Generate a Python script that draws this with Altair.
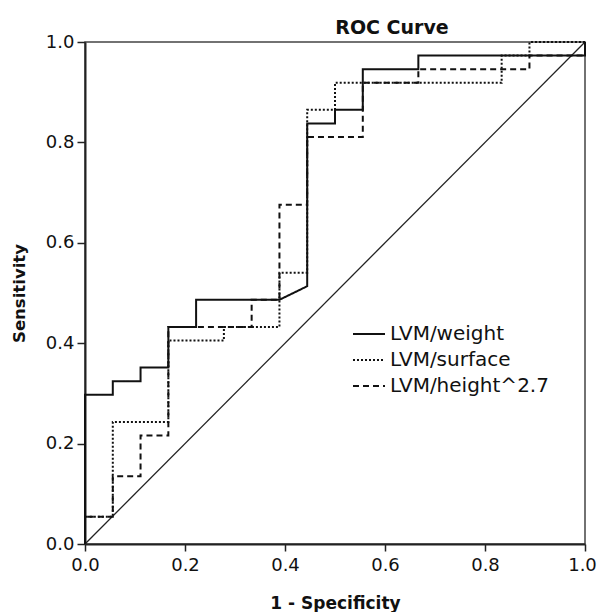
import altair as alt
import pandas as pd

# ---- data ----
series_names = ["LVM/weight", "LVM/surface", "LVM/height^2.7"]

weight_fpr = [0, 0, 0.0556, 0.0556, 0.1111, 0.1111, 0.1667, 0.1667, 0.2222, 0.2222,
              0.3889, 0.4444, 0.4444, 0.5, 0.5, 0.5556, 0.5556, 0.6667, 0.6667, 1, 1]
weight_tpr = [0, 0.2973, 0.2973, 0.3243, 0.3243, 0.3514, 0.3514, 0.4324, 0.4324, 0.4865,
              0.4865, 0.5135, 0.8378, 0.8378, 0.8649, 0.8649, 0.9459, 0.9459, 0.9730, 0.9730, 1]

surface_fpr = [0, 0, 0.0556, 0.0556, 0.1667, 0.1667, 0.2778, 0.2778, 0.3889, 0.3889,
               0.4444, 0.4444, 0.5, 0.5, 0.8333, 0.8333, 0.8889, 0.8889, 1]
surface_tpr = [0, 0.0541, 0.0541, 0.2432, 0.2432, 0.4054, 0.4054, 0.4324, 0.4324, 0.5405,
               0.5405, 0.8649, 0.8649, 0.9189, 0.9189, 0.9730, 0.9730, 1, 1]

height_fpr = [0, 0, 0.0556, 0.0556, 0.1111, 0.1111, 0.1667, 0.1667, 0.3333, 0.3333,
              0.3889, 0.3889, 0.4444, 0.4444, 0.5556, 0.5556, 0.6667, 0.6667, 0.8889, 0.8889, 1, 1]
height_tpr = [0, 0.0541, 0.0541, 0.1351, 0.1351, 0.2162, 0.2162, 0.4324, 0.4324, 0.4865,
              0.4865, 0.6757, 0.6757, 0.8108, 0.8108, 0.9189, 0.9189, 0.9459, 0.9459, 0.9730, 0.9730, 1]

ref_fpr = [0, 1]
ref_tpr = [0, 1]

tick_values = [0, 0.2, 0.4, 0.6, 0.8, 1.0]

# ---- tables ----
rows = []
for name, xs, ys in zip(series_names,
                        [weight_fpr, surface_fpr, height_fpr],
                        [weight_tpr, surface_tpr, height_tpr]):
    for i, (x, y) in enumerate(zip(xs, ys)):
        rows.append({"series": name, "fpr": x, "tpr": y, "idx": i})
df = pd.DataFrame(rows)
diag = pd.DataFrame({"fpr": ref_fpr, "tpr": ref_tpr})

font = "DejaVu Sans"

x_enc = alt.X(
    "fpr:Q",
    scale=alt.Scale(domain=[0, 1], nice=False),
    axis=alt.Axis(
        values=tick_values, format=".1f", grid=False, labelFlush=False,
        labelOverlap=False, domainColor="#222", domainWidth=2,
        tickColor="#222", tickWidth=1.5, tickSize=7,
        labelFont=font, labelFontSize=18, labelColor="#111", labelPadding=5,
        labelOffset={"condition": {"test": "datum.value == 1", "value": -3}, "value": 0},
        title="1 - Specificity", titleFont=font, titleFontWeight="bold",
        titleFontSize=17, titleColor="#111", titleX=250, titleY=64,
        titleBaseline="alphabetic",
    ),
)
y_enc = alt.Y(
    "tpr:Q",
    scale=alt.Scale(domain=[0, 1], nice=False),
    axis=alt.Axis(
        values=tick_values, format=".1f", grid=False, labelFlush=False,
        labelOverlap=False, domainColor="#222", domainWidth=2,
        tickColor="#222", tickWidth=1.5, tickSize=8,
        labelFont=font, labelFontSize=18, labelColor="#111", labelPadding=3,
        title="Sensitivity", titleFont=font, titleFontWeight="bold",
        titleFontSize=16.5, titleColor="#111", titleX=-66, titleY=251,
        titleAngle=270, titleBaseline="middle",
    ),
)

curves = alt.Chart(df).mark_line(color="#111", strokeWidth=2).encode(
    x=x_enc,
    y=y_enc,
    order="idx:Q",
    strokeDash=alt.StrokeDash(
        "series:N",
        scale=alt.Scale(domain=series_names, range=[[1, 0], [2, 2], [6, 4]]),
        legend=alt.Legend(
            orient="none", legendX=267, legendY=280, title=None,
            symbolType="stroke", symbolSize=1024, symbolStrokeWidth=2,
            symbolStrokeColor="#111", labelFont=font, labelFontSize=20,
            labelColor="#111", labelOffset=4, rowPadding=2, clipHeight=24,
            padding=0,
        ),
    ),
)

reference = alt.Chart(diag).mark_line(color="#222", strokeWidth=1.3).encode(
    x="fpr:Q", y="tpr:Q"
)

chart = (
    alt.layer(reference, curves)
    .properties(
        width=500,
        height=502,
        autosize=alt.AutoSizeParams(type="none"),
        padding={"left": 77, "top": 34, "right": 12, "bottom": 68},
        title=alt.TitleParams(
            "ROC Curve", font=font, fontSize=19, fontWeight="bold", color="#111",
            anchor="middle", dx=57, dy=9, offset=4,
        ),
    )
    .configure_view(stroke="#444", strokeWidth=1.5)
)

chart.save("out.html", embed_options={"renderer": "svg", "actions": False})
